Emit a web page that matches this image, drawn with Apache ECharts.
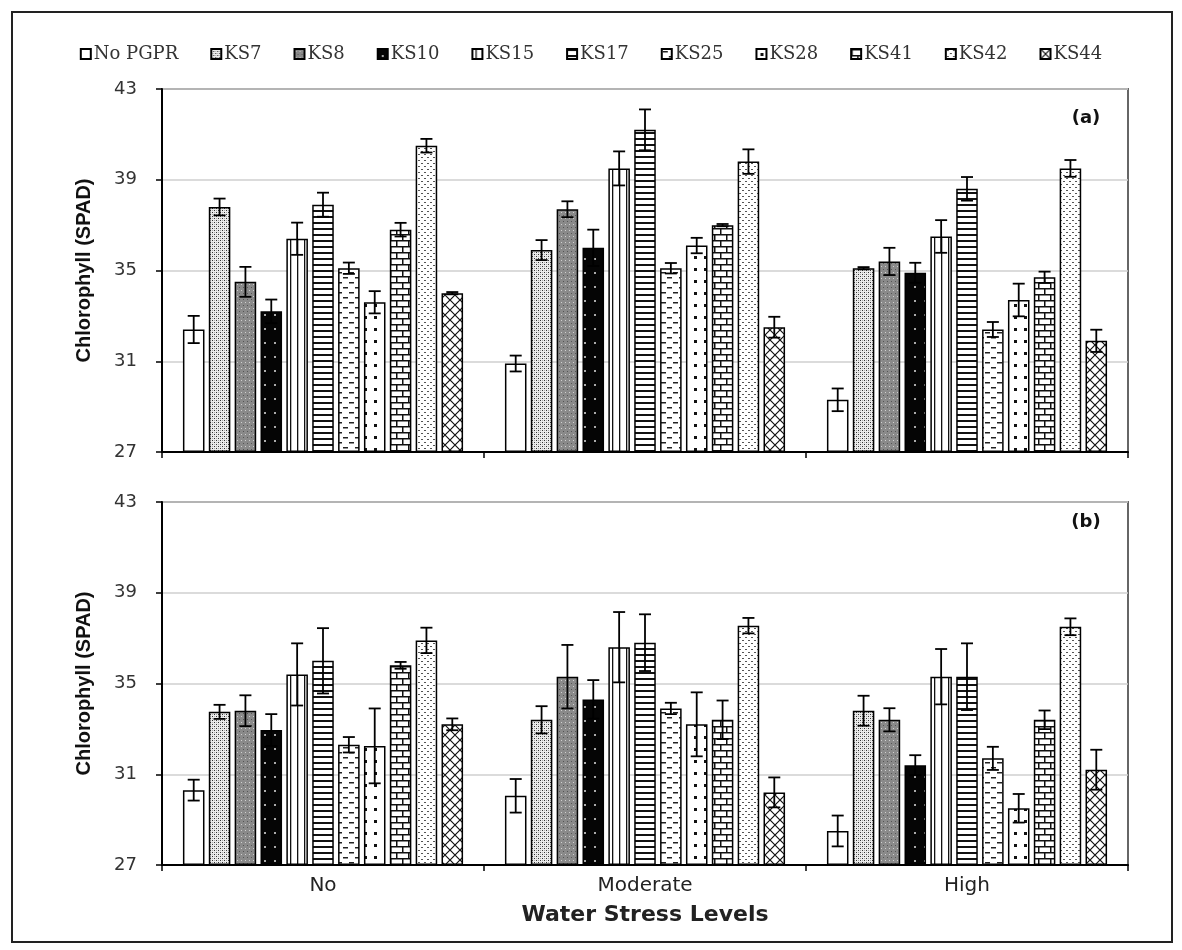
<!DOCTYPE html>
<html>
<head>
<meta charset="utf-8">
<script src="https://cdn.jsdelivr.net/npm/echarts@6/dist/echarts.min.js"></script>
<style>
html,body{margin:0;padding:0;background:#fff;}
#chart{width:1182px;height:950px;}
</style>
</head>
<body>
<div id="chart"></div>
<script>
// ---------------- DATA ----------------
const categories = ['No', 'Moderate', 'High'];
const seriesNames = ['No PGPR', 'KS7', 'KS8', 'KS10', 'KS15', 'KS17', 'KS25', 'KS28', 'KS41', 'KS42', 'KS44'];
const yTickLabels = [27, 31, 35, 39, 43];

// Panel (a): means per stress level (order = seriesNames)
const meansA_No       = [32.4, 37.8, 34.5, 33.2, 36.4, 37.9, 35.1, 33.6, 36.8, 40.5, 34.0];
const meansA_Moderate = [30.9, 35.9, 37.7, 36.0, 39.5, 41.2, 35.1, 36.1, 37.0, 39.8, 32.5];
const meansA_High     = [29.3, 35.1, 35.4, 34.9, 36.5, 38.6, 32.4, 33.7, 34.7, 39.5, 31.9];
const errA_No         = [0.60, 0.37, 0.66, 0.52, 0.71, 0.53, 0.25, 0.49, 0.30, 0.30, 0.05];
const errA_Moderate   = [0.35, 0.44, 0.35, 0.80, 0.75, 0.90, 0.23, 0.34, 0.05, 0.54, 0.46];
const errA_High       = [0.50, 0.05, 0.60, 0.44, 0.72, 0.52, 0.33, 0.72, 0.25, 0.37, 0.49];

// Panel (b)
const meansB_No       = [30.3, 33.75, 33.8, 32.95, 35.4, 36.0, 32.3, 32.25, 35.8, 36.9, 33.2];
const meansB_Moderate = [30.05, 33.4, 35.3, 34.3, 36.6, 36.8, 33.9, 33.2, 33.4, 37.55, 30.2];
const meansB_High     = [28.5, 33.8, 33.4, 31.4, 35.3, 35.3, 31.7, 29.5, 33.4, 37.5, 31.2];
const errB_No         = [0.46, 0.31, 0.68, 0.70, 1.37, 1.44, 0.34, 1.65, 0.15, 0.56, 0.26];
const errB_Moderate   = [0.74, 0.60, 1.40, 0.85, 1.55, 1.25, 0.25, 1.41, 0.85, 0.34, 0.66];
const errB_High       = [0.68, 0.66, 0.51, 0.44, 1.22, 1.47, 0.51, 0.63, 0.41, 0.37, 0.88];

// ---------------- BUILD ----------------
const BASE = yTickLabels[0];           // axis starts at 27 -> axis value = reading - 27
const STEP = yTickLabels[1] - yTickLabels[0];
const TOP = yTickLabels[yTickLabels.length - 1];
const CAT_GAP = 0.13, BAR_GAP = 0.20;
const N = seriesNames.length;

function tile(w, h, draw) {
  const c = document.createElement('canvas');
  c.width = w; c.height = h;
  const g = c.getContext('2d');
  draw(g, w, h);
  return { image: c, repeat: 'repeat' };
}
const patterns = [
  '#ffffff',
  tile(4, 4, (g) => { g.fillStyle = '#ececec'; g.fillRect(0,0,4,4); g.fillStyle = '#333'; g.fillRect(0,0,1,1); g.fillRect(2,2,1,1); g.fillStyle = '#aaa'; g.fillRect(2,0,1,1); g.fillRect(0,2,1,1); }),
  tile(4, 6, (g) => { g.fillStyle = '#8a8a8a'; g.fillRect(0,0,4,6); g.fillStyle = '#d0d0d0'; g.fillRect(1,2,1,1); g.fillStyle = '#555'; g.fillRect(3,5,1,1); }),
  tile(10, 14, (g) => { g.fillStyle = '#050505'; g.fillRect(0,0,10,14); g.fillStyle = '#aaa'; g.fillRect(4,6,2,2); }),
  tile(7, 4, (g) => { g.fillStyle = '#fff'; g.fillRect(0,0,7,4); g.fillStyle = '#111'; g.fillRect(3,0,1.3,4); }),
  tile(4, 6, (g) => { g.fillStyle = '#fff'; g.fillRect(0,0,4,6); g.fillStyle = '#111'; g.fillRect(0,0,4,2); }),
  tile(12, 10, (g) => { g.fillStyle = '#fff'; g.fillRect(0,0,12,10); g.fillStyle = '#222'; g.fillRect(1,2,5,1.5); g.fillRect(7,7,5,1.5); }),
  tile(10, 12, (g) => { g.fillStyle = '#fff'; g.fillRect(0,0,10,12); g.fillStyle = '#111'; g.fillRect(4,4,3,3); }),
  tile(12, 12, (g) => { g.fillStyle = '#fff'; g.fillRect(0,0,12,12); g.fillStyle = '#111'; g.fillRect(0,0,12,1.5); g.fillRect(0,6,12,1.5); g.fillRect(0,0,1.5,6); g.fillRect(6,6,1.5,6); }),
  tile(6, 6, (g) => { g.fillStyle = '#fff'; g.fillRect(0,0,6,6); g.fillStyle = '#555'; g.fillRect(1,1,2,1); g.fillRect(4,4,2,1); }),
  tile(10, 10, (g) => { g.fillStyle = '#fff'; g.fillRect(0,0,10,10); g.strokeStyle = '#111'; g.lineWidth = 1.2; g.beginPath(); g.moveTo(0,0); g.lineTo(10,10); g.moveTo(10,0); g.lineTo(0,10); g.stroke(); })
];

const panels = [
  { means: [meansA_No, meansA_Moderate, meansA_High], errs: [errA_No, errA_Moderate, errA_High] },
  { means: [meansB_No, meansB_Moderate, meansB_High], errs: [errB_No, errB_Moderate, errB_High] }
];

function errRender(params, api) {
  const cat = api.value(0), s = api.value(1);
  const hi = api.value(2), lo = api.value(3);
  const band = api.size([1, 0])[0];
  const remained = band * (1 - CAT_GAP);
  const w = remained / (N + (N - 1) * BAR_GAP);
  const cx = api.coord([cat, 0])[0] - remained / 2 + s * w * (1 + BAR_GAP) + w / 2;
  const yt = api.coord([cat, hi])[1], yb = api.coord([cat, lo])[1];
  const cap = 6;
  const st = { stroke: '#000', lineWidth: 1.8 };
  return {
    type: 'group',
    children: [
      { type: 'line', shape: { x1: cx, y1: yt, x2: cx, y2: yb }, style: st },
      { type: 'line', shape: { x1: cx - cap, y1: yt, x2: cx + cap, y2: yt }, style: st },
      { type: 'line', shape: { x1: cx - cap, y1: yb, x2: cx + cap, y2: yb }, style: st }
    ]
  };
}

const series = [];
panels.forEach((p, pi) => {
  seriesNames.forEach((name, si) => {
    series.push({
      name: name,
      type: 'bar',
      xAxisIndex: pi, yAxisIndex: pi,
      barCategoryGap: (CAT_GAP * 100) + '%',
      barGap: (BAR_GAP * 100) + '%',
      itemStyle: { color: patterns[si], borderColor: '#000', borderWidth: 1.5 },
      emphasis: { disabled: true },
      data: p.means.map(row => +(row[si] - BASE).toFixed(3)),
      z: 2
    });
  });
  const errData = [];
  p.means.forEach((row, ci) => {
    row.forEach((v, si) => {
      const e = p.errs[ci][si];
      errData.push([ci, si, v + e - BASE, v - e - BASE]);
    });
  });
  series.push({
    type: 'custom',
    name: 'err' + pi,
    xAxisIndex: pi, yAxisIndex: pi,
    renderItem: errRender,
    encode: { x: 0, y: 2 },
    data: errData,
    z: 5,
    silent: true
  });
});

const gridTops = [89, 502];
const gridH = 363;

const option = {
  animation: false,
  backgroundColor: '#fff',
  legend: {
    data: seriesNames,
    top: 40,
    left: 'center',
    icon: 'rect',
    itemWidth: 10, itemHeight: 10,
    itemGap: 32,
    textStyle: { fontFamily: 'DejaVu Serif', fontSize: 18, color: '#333', padding: [0, 0, 0, -2] }
  },
  grid: gridTops.map(t => ({
    left: 162, right: 54, top: t, height: gridH,
    show: true, borderColor: '#666', borderWidth: 2, backgroundColor: '#fff'
  })),
  xAxis: [0, 1].map(i => ({
    type: 'category',
    gridIndex: i,
    data: categories,
    axisLine: { lineStyle: { color: '#000', width: 2 } },
    axisTick: { show: true, length: 6, lineStyle: { color: '#000', width: 1.5 } },
    axisLabel: i === 1 ? { show: true, margin: 11, fontFamily: 'DejaVu Sans', fontSize: 20, color: '#222' } : { show: false },
    name: i === 1 ? 'Water Stress Levels' : '',
    nameLocation: 'middle',
    nameGap: 39,
    nameTextStyle: { fontFamily: 'DejaVu Sans', fontWeight: 'bold', fontSize: 22, color: '#222' }
  })),
  yAxis: [0, 1].map(i => ({
    type: 'value',
    gridIndex: i,
    min: 0, max: TOP - BASE, interval: STEP,
    axisLine: { show: true, lineStyle: { color: '#000', width: 2 } },
    axisTick: { show: true, length: 6, lineStyle: { color: '#000', width: 1.5 } },
    axisLabel: { formatter: v => String(v + BASE), margin: 25, fontFamily: 'DejaVu Sans', fontSize: 18, color: '#333' },
    splitLine: { show: true, lineStyle: { color: '#cfcfcf', width: 1.5 } },
    name: 'Chlorophyll (SPAD)',
    nameLocation: 'middle',
    nameGap: 68,
    nameTextStyle: { fontFamily: 'Liberation Sans', fontWeight: 'bold', fontSize: 20, color: '#111' }
  })),
  graphic: [
    { type: 'rect', shape: { x: 12, y: 12, width: 1160, height: 930 }, style: { fill: null, stroke: '#222', lineWidth: 2 }, silent: true, z: 100 },
    { type: 'text', x: 1086, y: 118, style: { text: '(a)', font: 'bold 18px "DejaVu Sans"', fill: '#111', textAlign: 'center', textVerticalAlign: 'middle' }, z: 100 },
    { type: 'text', x: 1086, y: 522, style: { text: '(b)', font: 'bold 18px "DejaVu Sans"', fill: '#111', textAlign: 'center', textVerticalAlign: 'middle' }, z: 100 }
  ],
  series: series
};

const chart = echarts.init(document.getElementById('chart'), null, { renderer: 'canvas' });
chart.setOption(option);
</script>
</body>
</html>
